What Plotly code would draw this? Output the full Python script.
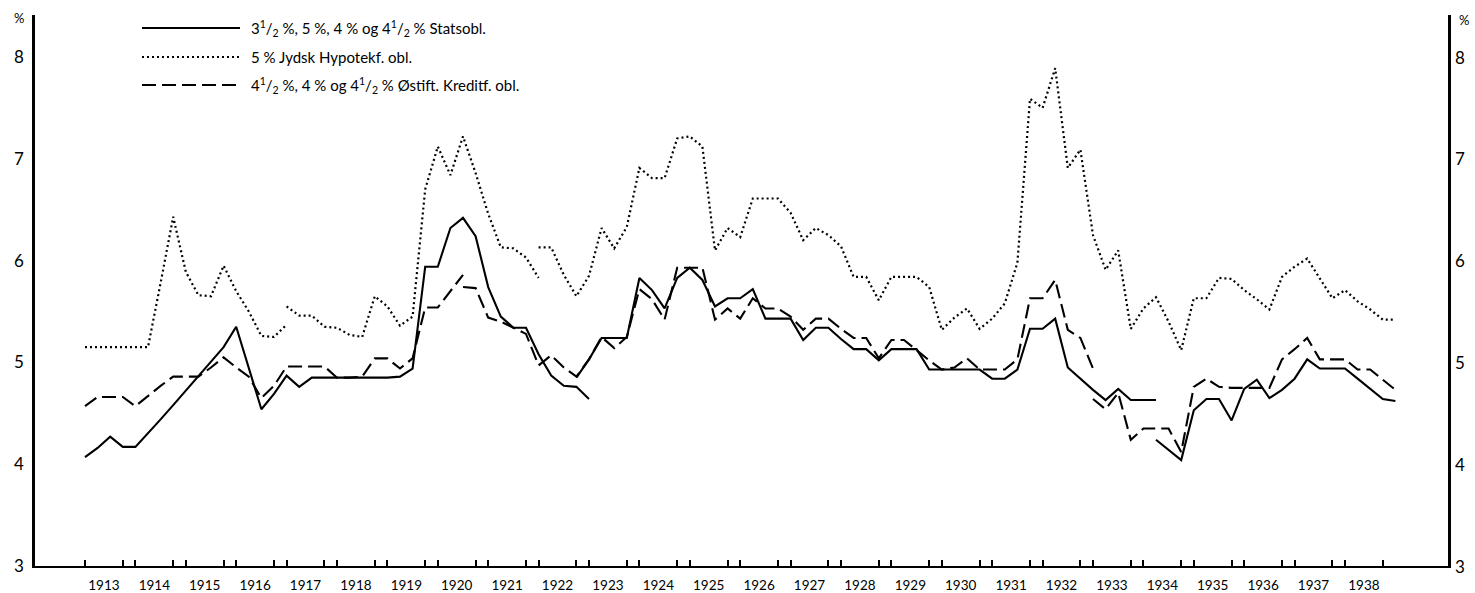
import plotly.graph_objects as go

# ---------------- data (quarterly observations, index 0 = 1913 Q1) ----------------
years = list(range(1913, 1939))
year_labels = [str(y) for y in years]

# 3 1/2 %, 5 %, 4 % og 4 1/2 % Statsobl.  (solid)
stats_start_1 = 0
stats_1 = [4.07, 4.16, 4.27, 4.17, 4.17, 4.30, 4.44, 4.58, 4.72, 4.86,
           5.00, 5.15, 5.35, 4.95, 4.54, 4.69, 4.87, 4.76, 4.85, 4.85,
           4.85, 4.85, 4.85, 4.85, 4.85, 4.86, 4.94, 5.94, 5.94, 6.32,
           6.42, 6.24, 5.74, 5.45, 5.34, 5.34, 5.08, 4.87, 4.77, 4.76,
           4.64]
stats_start_2 = 39
stats_2 = [4.85, 5.03, 5.24, 5.24, 5.24, 5.83, 5.71, 5.53, 5.83, 5.93,
           5.81, 5.55, 5.63, 5.63, 5.72, 5.43, 5.43, 5.43, 5.22, 5.34,
           5.34, 5.23, 5.13, 5.13, 5.02, 5.13, 5.13, 5.13, 4.93, 4.93,
           4.93, 4.93, 4.93, 4.84, 4.84, 4.93, 5.33, 5.33, 5.43, 4.95,
           4.84, 4.73, 4.63, 4.74, 4.63, 4.63, 4.63]
stats_start_3 = 85
stats_3 = [4.24, 4.14, 4.04, 4.53, 4.64, 4.64, 4.43, 4.74, 4.83, 4.65,
           4.73, 4.84, 5.03, 4.94, 4.94, 4.94, 4.84, 4.74, 4.64, 4.62]

# 5 % Jydsk Hypotekf. obl.  (dotted)
jydsk_start_1 = 0
jydsk_1 = [5.15, 5.15, 5.15, 5.15, 5.15, 5.15, 5.78, 6.43, 5.89, 5.66,
           5.65, 5.95, 5.70, 5.50, 5.26, 5.25, 5.37]
jydsk_start_2 = 16
jydsk_2 = [5.55, 5.46, 5.46, 5.35, 5.34, 5.27, 5.25, 5.65, 5.55, 5.36,
           5.45, 6.70, 7.12, 6.84, 7.22, 6.86, 6.46, 6.13, 6.12, 6.03,
           5.83]
jydsk_start_3 = 36
jydsk_3 = [6.13, 6.13, 5.86, 5.65, 5.85, 6.32, 6.12, 6.33, 6.91, 6.81,
           6.81, 7.20, 7.22, 7.12, 6.10, 6.32, 6.23, 6.61, 6.61, 6.61,
           6.47, 6.20, 6.32, 6.25, 6.14, 5.84, 5.84, 5.61, 5.84, 5.84,
           5.84, 5.74, 5.32, 5.44, 5.53, 5.33, 5.43, 5.58, 5.98, 7.59,
           7.50, 7.89, 6.91, 7.09, 6.25, 5.91, 6.10, 5.33, 5.53, 5.64,
           5.40, 5.12, 5.63, 5.63, 5.83, 5.82, 5.71, 5.62, 5.52, 5.84,
           5.94, 6.02, 5.83, 5.63, 5.71, 5.60, 5.52, 5.42, 5.42]

# 4 1/2 %, 4 % og 4 1/2 % Østift. Kreditf. obl.  (dashed)
oestift_start_1 = 0
oestift_1 = [4.57, 4.66, 4.66, 4.66, 4.57, 4.67, 4.77, 4.86, 4.86, 4.86,
             4.95, 5.05, 4.95, 4.86, 4.65, 4.77, 4.96, 4.96, 4.96, 4.96,
             4.85, 4.85, 4.86, 5.04, 5.04, 4.94, 5.04, 5.54, 5.54, 5.70,
             5.86]
oestift_start_2 = 30
oestift_2 = [5.74, 5.73, 5.44, 5.40, 5.34, 5.28, 4.97, 5.07, 4.95, 4.86,
             5.03, 5.25, 5.14, 5.25, 5.72, 5.62, 5.42, 5.93, 5.93, 5.93,
             5.42, 5.53, 5.43, 5.63, 5.53, 5.53, 5.45, 5.32, 5.43, 5.43,
             5.33, 5.24, 5.24, 5.04, 5.22, 5.22, 5.12, 5.02, 4.93, 4.95,
             5.04, 4.93, 4.93, 4.93, 5.03, 5.63, 5.63, 5.81, 5.32, 5.24,
             4.94]
oestift_start_3 = 80
oestift_3 = [4.64, 4.54, 4.70, 4.24, 4.35, 4.35, 4.35, 4.12, 4.76, 4.84,
             4.76, 4.75, 4.75, 4.75, 4.75, 5.03, 5.13, 5.24, 5.03, 5.03,
             5.03, 4.93, 4.93, 4.83, 4.73]

y_ticks = [3, 4, 5, 6, 7, 8]

legend_texts = [
    "3<sup>1</sup>/<sub>2</sub> %, 5 %, 4 % og 4<sup>1</sup>/<sub>2</sub> % Statsobl.",
    "5 % Jydsk Hypotekf. obl.",
    "4<sup>1</sup>/<sub>2</sub> %, 4 % og 4<sup>1</sup>/<sub>2</sub> % Østift. Kreditf. obl.",
]

# ---------------- figure ----------------
W, H = 1475, 593
ML, MR, MT, MB = 35, 27, 15, 27
PW, PH = W - ML - MR, H - MT - MB
FONT = "Lato, 'Open Sans', sans-serif"

def pxx(px):
    return (px - ML) / PW

def pxy(py):
    return 1 - (py - MT) / PH

SOLID = dict(color="black", width=2.1)
DOTTED = dict(color="black", width=2.2, dash="2px,3px")
DASHED = dict(color="black", width=2.1, dash="14px,6px")

fig = go.Figure()

def add_segment(start, vals, line, yaxis="y"):
    xs = [start + k for k in range(len(vals))]
    fig.add_trace(go.Scatter(x=xs, y=vals, mode="lines", line=line,
                             showlegend=False, hoverinfo="skip", yaxis=yaxis))

for s, v in [(stats_start_1, stats_1), (stats_start_2, stats_2), (stats_start_3, stats_3)]:
    add_segment(s, v, SOLID)
for s, v in [(oestift_start_1, oestift_1), (oestift_start_2, oestift_2), (oestift_start_3, oestift_3)]:
    add_segment(s, v, DASHED)
for s, v in [(jydsk_start_1, jydsk_1), (jydsk_start_2, jydsk_2), (jydsk_start_3, jydsk_3)]:
    add_segment(s, v, DOTTED, yaxis="y2")

# x range: quarter index, year label at middle of each year's four points
x_min = (ML - 85) / 12.6
x_max = (W - MR - 85) / 12.6
label_pos = [4 * k + 1.5 for k in range(len(years))]
tick_marks = [0]
for k in range(1, len(years)):
    tick_marks += [4 * k - 1, 4 * k]
tick_marks.append(4 * len(years) - 1)

y_max = 3 + PH / 101.8

fig.update_layout(
    width=W, height=H,
    margin=dict(l=ML, r=MR, t=MT, b=MB, autoexpand=False),
    paper_bgcolor="white", plot_bgcolor="white",
    font=dict(family=FONT, color="black"),
    xaxis=dict(range=[x_min, x_max], showline=True, linecolor="black", linewidth=2,
               showgrid=False, zeroline=False,
               tickmode="array", tickvals=label_pos, ticktext=year_labels,
               ticks="", ticklabelstandoff=6,
               tickfont=dict(size=13.5, family=FONT),
               minor=dict(tickmode="array", tickvals=tick_marks, ticks="inside",
                          ticklen=6, tickwidth=1.5, tickcolor="black", showgrid=False)),
    yaxis=dict(range=[3, y_max], showline=True, linecolor="black", linewidth=2.5,
               showgrid=False, zeroline=False, tickmode="array", tickvals=y_ticks,
               ticks="", ticklen=0, ticklabelstandoff=5, tickfont=dict(size=17, family=FONT)),
    yaxis2=dict(range=[3, y_max], overlaying="y", side="right", showline=True,
                linecolor="black", linewidth=2.5, showgrid=False, zeroline=False,
                tickmode="array", tickvals=y_ticks, ticks="", showticklabels=False),
)

annotations = [
    dict(x=pxx(19), y=pxy(18), text="%", showarrow=False, xref="paper", yref="paper",
         xanchor="center", yanchor="middle", font=dict(size=13, family=FONT)),
    dict(x=pxx(1464), y=pxy(20), text="%", showarrow=False, xref="paper", yref="paper",
         xanchor="center", yanchor="middle", font=dict(size=13, family=FONT)),
]
# right-hand tick labels (same values as the left axis)
for v in y_ticks:
    annotations.append(dict(x=pxx(1453), y=v, xref="paper", yref="y2", text=str(v),
                            showarrow=False, xanchor="left", yanchor="middle",
                            font=dict(size=17, family=FONT)))
shapes = []
legend_y = [28, 57, 85]
legend_lines = [SOLID, DOTTED, DASHED]
for txt, ly, ln in zip(legend_texts, legend_y, legend_lines):
    shapes.append(dict(type="line", xref="paper", yref="paper",
                       x0=pxx(142), x1=pxx(240), y0=pxy(ly), y1=pxy(ly), line=ln))
    annotations.append(dict(x=pxx(249), y=pxy(ly), text=txt, showarrow=False,
                            xref="paper", yref="paper", xanchor="left", yanchor="middle",
                            font=dict(size=15, family=FONT)))
fig.update_layout(annotations=annotations, shapes=shapes)

fig.write_html("out.html", config={"displayModeBar": False},
               post_script="document.body.style.margin='0px';document.body.style.overflow='hidden';")
